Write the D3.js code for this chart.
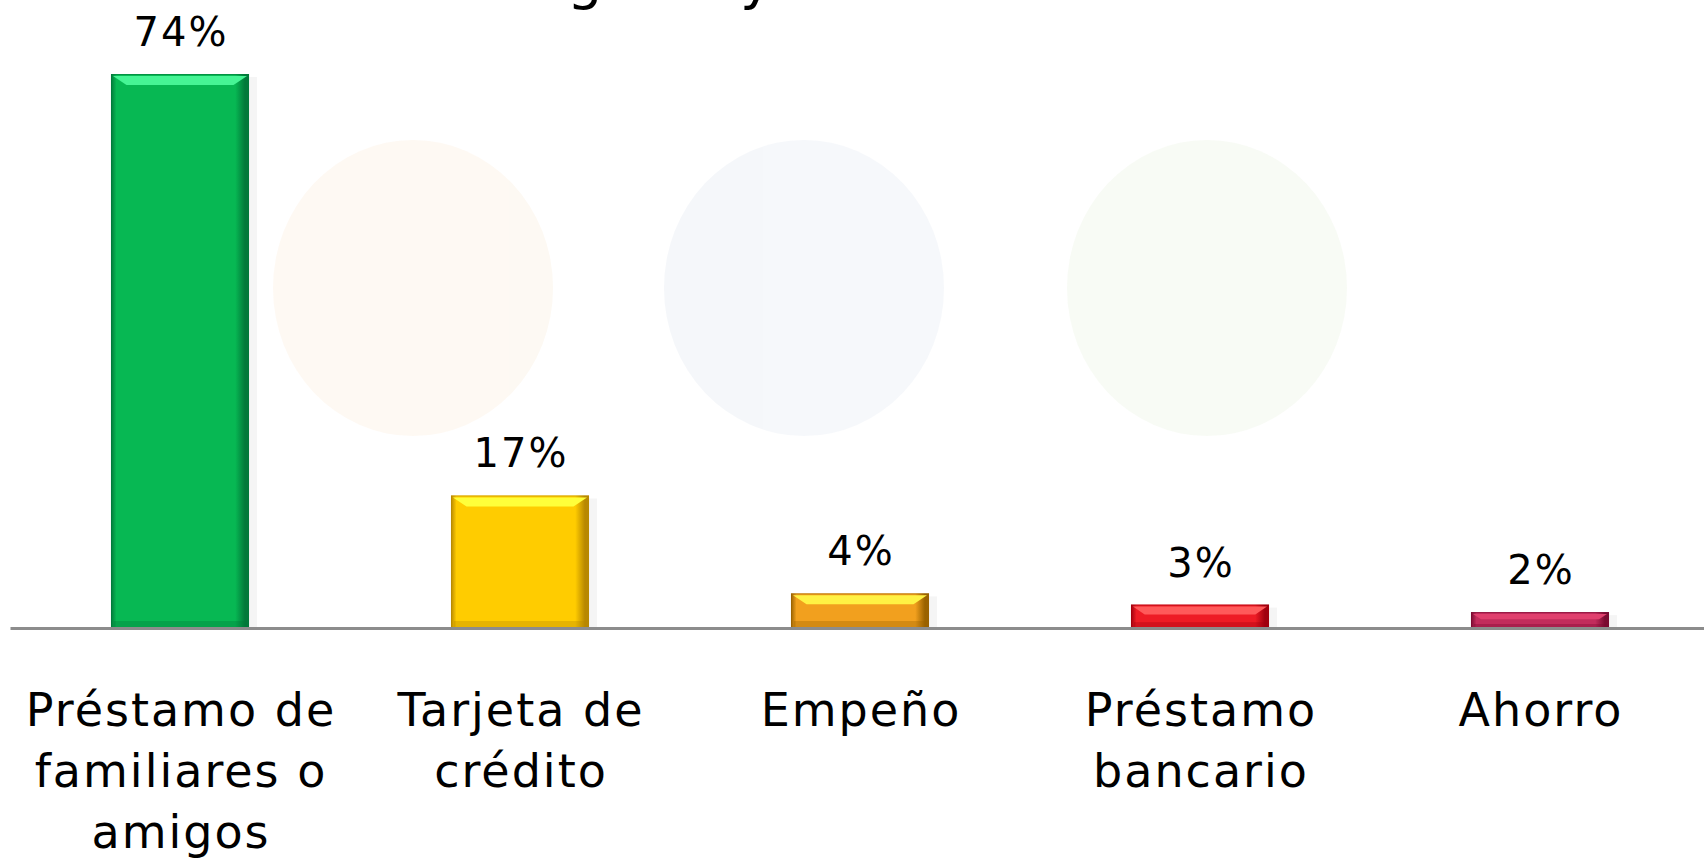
<!DOCTYPE html>
<html>
<head>
<meta charset="utf-8">
<script src="https://cdn.jsdelivr.net/npm/d3@7"></script>
<style>
  html, body { margin: 0; padding: 0; background: #fff; overflow: hidden; }
  svg { display: block; font-family: "DejaVu Sans", Verdana, sans-serif; }
</style>
</head>
<body>
<div id="chart"></div>
<script>
// Data
const categories = ["Préstamo de familiares o amigos", "Tarjeta de crédito", "Empeño", "Préstamo bancario", "Ahorro"];
const tickLines = [["Préstamo de", "familiares o", "amigos"], ["Tarjeta de", "crédito"], ["Empeño"], ["Préstamo", "bancario"], ["Ahorro"]];
const values = [74, 17.6, 4.5, 3, 2];   // bar heights
const valueLabels = ["74%", "17%", "4%", "3%", "2%"];

// bar colours: body, light top, dark edge
const barColors = [
    { body: "#07b853", light: "#46f595", dark: "#02793a" },
    { body: "#ffcc00", light: "#ffff3a", dark: "#b88800" },
    { body: "#f2a01e", light: "#fff244", dark: "#9a6200" },
    { body: "#ee1c25", light: "#ff5a5a", dark: "#a0000e" },
    { body: "#c22c5c", light: "#e0406e", dark: "#7a0a30" }
];

const width = 1704, height = 860;
const baseY = 628;

const svg = d3.select("#chart").append("svg")
    .attr("width", width)
    .attr("height", height);

// faint watermark behind the chart
const wm = svg.append("g").attr("opacity", 0.7);
[{ cx: 413, fill: "#fdf7ee" }, { cx: 804, fill: "#f2f5f9" }, { cx: 1207, fill: "#f5f9f1" }].forEach(c => {
    wm.append("ellipse")
        .attr("cx", c.cx).attr("cy", 288)
        .attr("rx", 140).attr("ry", 148)
        .attr("fill", c.fill);
});

// title, cut off at the top of the picture
svg.append("text")
    .attr("x", 567)
    .attr("y", -2)
    .attr("font-size", 56)
    .attr("fill", "#000")
    .text("gasto y");

const x = d3.scaleBand()
    .domain(categories)
    .range([10, 1710])
    .paddingInner(0.594)
    .paddingOuter(0.297);

const y = d3.scaleLinear()
    .domain([0, d3.max(values)])
    .range([baseY - 1, 74]);

const data = categories.map((c, i) => ({ cat: c, value: values[i], label: valueLabels[i], col: barColors[i], lines: tickLines[i] }));

// gradients for the side shading
const defs = svg.append("defs");
data.forEach((d, i) => {
    const g = defs.append("linearGradient").attr("id", "side" + i)
        .attr("x1", 0).attr("x2", 1).attr("y1", 0).attr("y2", 0);
    g.append("stop").attr("offset", "0%").attr("stop-color", d.col.dark);
    g.append("stop").attr("offset", "4%").attr("stop-color", d.col.body);
    g.append("stop").attr("offset", "90%").attr("stop-color", d.col.body);
    g.append("stop").attr("offset", "97%").attr("stop-color", d.col.dark);
    g.append("stop").attr("offset", "100%").attr("stop-color", d.col.dark);
});

const bars = svg.append("g").selectAll("g")
    .data(data)
    .join("g");

const bw = x.bandwidth();

// soft shadow
bars.append("rect")
    .attr("x", d => x(d.cat) + 3)
    .attr("y", d => y(d.value) + 3)
    .attr("width", bw + 5)
    .attr("height", d => baseY - y(d.value) - 3)
    .attr("fill", "#000")
    .attr("opacity", 0.04);

bars.append("rect")
    .attr("x", d => x(d.cat))
    .attr("y", d => y(d.value))
    .attr("width", bw)
    .attr("height", d => baseY - y(d.value))
    .attr("fill", (d, i) => `url(#side${i})`);

// light bevel on top
bars.append("path")
    .attr("d", d => {
        const x0 = x(d.cat), y0 = y(d.value);
        const h = Math.min(9, (baseY - y0) / 3);
        return `M${x0 + 2},${y0 + 2} L${x0 + bw - 2},${y0 + 2} L${x0 + bw - 2 - h * 1.5},${y0 + 2 + h} L${x0 + 2 + h * 1.5},${y0 + 2 + h} Z`;
    })
    .attr("fill", d => d.col.light);

// darker strip at bottom
bars.append("rect")
    .attr("x", d => x(d.cat) + 3)
    .attr("y", d => baseY - Math.min(7, (baseY - y(d.value)) / 4))
    .attr("width", bw - 6)
    .attr("height", d => Math.min(7, (baseY - y(d.value)) / 4))
    .attr("fill", d => d.col.dark)
    .attr("opacity", 0.35);

// outline
bars.append("rect")
    .attr("x", d => x(d.cat) + 0.5)
    .attr("y", d => y(d.value) + 0.5)
    .attr("width", bw - 1)
    .attr("height", d => baseY - y(d.value) - 1)
    .attr("fill", "none")
    .attr("stroke", d => d.col.dark)
    .attr("stroke-opacity", 0.6);

// value labels
bars.append("text")
    .attr("x", d => x(d.cat) + bw / 2 + 1)
    .attr("y", d => y(d.value) - 28)
    .attr("text-anchor", "middle")
    .attr("font-size", 40)
    .attr("letter-spacing", 2)
    .attr("fill", "#000")
    .text(d => d.label);

// axis
const axis = svg.append("g")
    .attr("transform", `translate(0,${baseY})`)
    .call(d3.axisBottom(x).tickSize(0).tickSizeOuter(0));

axis.select(".domain")
    .attr("stroke", "#8c8c8c")
    .attr("stroke-width", 3);

axis.selectAll(".tick text").each(function(c) {
    const t = d3.select(this);
    const lines = tickLines[categories.indexOf(c)];
    t.text(null)
        .attr("y", 0)
        .attr("dy", null)
        .attr("font-size", 46)
        .attr("letter-spacing", 2)
        .attr("font-family", "DejaVu Sans, Verdana, sans-serif")
        .attr("fill", "#000");
    lines.forEach((ln, k) => {
        t.append("tspan")
            .attr("x", 1)
            .attr("y", 98 + k * 61)
            .text(ln);
    });
});
</script>
</body>
</html>
